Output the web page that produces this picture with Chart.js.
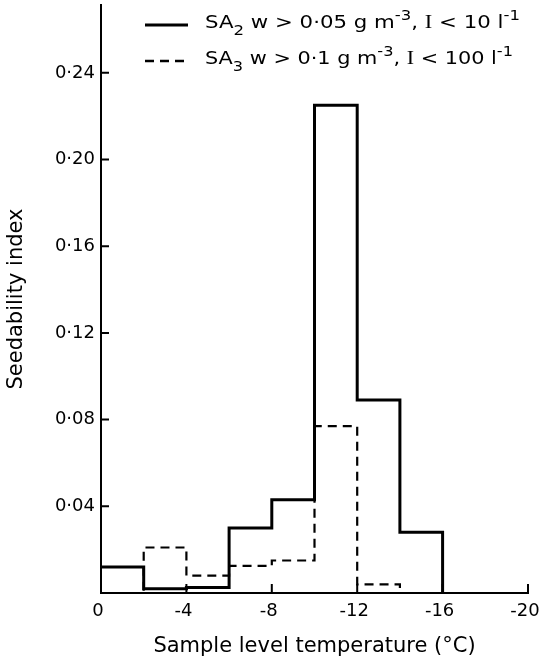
<!DOCTYPE html>
<html>
<head>
<meta charset="utf-8">
<script src="https://cdn.jsdelivr.net/npm/chart.js@4"></script>
<style>
  html, body { margin: 0; padding: 0; background: #fff; }
  #wrap { width: 540px; height: 658px; }
</style>
</head>
<body>
<div id="wrap"><canvas id="chart" width="540" height="658"></canvas></div>
<script>
// bin edges of the sample level temperature (deg C), 2 degree bins
const binEdges = [0, -2, -4, -6, -8, -10, -12, -14, -16];
// seedability index per bin
const sa2Values = [0.012, 0.002, 0.0025, 0.030, 0.043, 0.225, 0.089, 0.028];
const sa3Values = [0, 0.021, 0.008, 0.0125, 0.015, 0.077, 0.004, 0];
const xTicks = [0, -4, -8, -12, -16, -20];
const yTicks = [0.04, 0.08, 0.12, 0.16, 0.20, 0.24];

const FONT = 'DejaVu Sans';

// step line points: each bin value is held until the next edge, closing at 0
function stepPoints(values) {
    return binEdges.map((x, i) => ({ x: x, y: i < values.length ? values[i] : 0 }));
}

// inward tick marks on both axes
const innerTicks = {
    id: 'innerTicks',
    afterDraw(chart) {
        const ctx = chart.ctx;
        const xs = chart.scales.x, ys = chart.scales.y;
        const area = chart.chartArea;
        ctx.save();
        ctx.strokeStyle = '#000';
        ctx.lineWidth = 2;
        ctx.beginPath();
        xTicks.forEach(v => {
            const px = xs.getPixelForValue(v);
            ctx.moveTo(px, area.bottom);
            ctx.lineTo(px, area.bottom - 9);
        });
        yTicks.forEach(v => {
            const py = ys.getPixelForValue(v);
            ctx.moveTo(area.left, py);
            ctx.lineTo(area.left + 8, py);
        });
        ctx.stroke();
        ctx.restore();
    }
};

function pieceFont(kind) {
    if (kind === 'sub' || kind === 'sup') return '14px "' + FONT + '"';
    if (kind === 'serif') return '19px "Liberation Serif"';
    return '18px "' + FONT + '"';
}

// legend with sub/superscripts, stretched a bit to the width of the printed one
const sciLegend = {
    id: 'sciLegend',
    afterDraw(chart) {
        const ctx = chart.ctx;
        const rows = [
            { y: 25, dash: [], width: 3, right: 520, parts: [
                ['SA'], ['2', 'sub'], [' w > 0·05 g m'], ['-3', 'sup'], [', '], ['I', 'serif'],
                [' < 10 '], ['l'], ['-1', 'sup']] },
            { y: 61, dash: [9, 6], width: 2.5, right: 513, parts: [
                ['SA'], ['3', 'sub'], [' w > 0·1 g m'], ['-3', 'sup'], [', '], ['I', 'serif'],
                [' < 100 '], ['l'], ['-1', 'sup']] }
        ];
        const left = 205;
        ctx.save();
        rows.forEach(r => {
            ctx.strokeStyle = '#000';
            ctx.lineWidth = r.width;
            ctx.setLineDash(r.dash);
            ctx.beginPath();
            ctx.moveTo(145, r.y);
            ctx.lineTo(188, r.y);
            ctx.stroke();
            ctx.setLineDash([]);

            let total = 0;
            r.parts.forEach(p => { ctx.font = pieceFont(p[1]); total += ctx.measureText(p[0]).width; });
            const sx = (r.right - left) / total;

            ctx.save();
            ctx.translate(left, 0);
            ctx.scale(sx, 1);
            ctx.fillStyle = '#000';
            ctx.textBaseline = 'alphabetic';
            ctx.textAlign = 'left';
            const base = r.y + 3;
            let x = 0;
            r.parts.forEach(p => {
                let dy = 0;
                if (p[1] === 'sub') dy = 7;
                else if (p[1] === 'sup') dy = -8;
                ctx.font = pieceFont(p[1]);
                ctx.fillText(p[0], x, base + dy);
                x += ctx.measureText(p[0]).width;
            });
            ctx.restore();
        });
        ctx.restore();
    }
};

Chart.defaults.color = '#000';
Chart.defaults.font.family = FONT;

new Chart(document.getElementById('chart'), {
    type: 'line',
    data: {
        datasets: [
            {
                label: 'SA2',
                data: stepPoints(sa2Values),
                stepped: 'before',
                borderColor: '#000',
                borderWidth: 3,
                pointRadius: 0,
                fill: false
            },
            {
                label: 'SA3',
                data: stepPoints(sa3Values),
                stepped: 'before',
                borderColor: '#000',
                borderWidth: 2.2,
                borderDash: [9, 6],
                pointRadius: 0,
                fill: false
            }
        ]
    },
    options: {
        responsive: false,
        animation: false,
        layout: { padding: { top: 5, right: 12, left: 0, bottom: 0 } },
        plugins: {
            legend: { display: false },
            tooltip: { enabled: false }
        },
        scales: {
            x: {
                type: 'linear',
                min: -20,
                max: 0,
                reverse: true,
                grid: { display: true, drawOnChartArea: false, drawTicks: false },
                border: { display: true, color: '#000', width: 2 },
                afterBuildTicks: s => { s.ticks = xTicks.map(v => ({ value: v })); },
                afterFit: s => { s.height = 65; s.paddingLeft = 0; s.paddingRight = 0; },
                ticks: {
                    padding: 8,
                    maxRotation: 0,
                    labelOffset: -3,
                    font: { size: 18 },
                    callback: v => String(v)
                },
                title: {
                    display: true,
                    text: 'Sample level temperature (°C)',
                    font: { size: 21 },
                    padding: { top: 0, bottom: -1 }
                }
            },
            y: {
                min: 0,
                max: 0.2713,
                grid: { display: true, drawOnChartArea: false, drawTicks: false },
                border: { display: true, color: '#000', width: 2 },
                afterBuildTicks: s => { s.ticks = yTicks.map(v => ({ value: v })); },
                afterFit: s => { s.width = 101; s.paddingTop = 0; s.paddingBottom = 0; },
                ticks: {
                    padding: 6,
                    font: { size: 18 },
                    callback: v => v.toFixed(2).replace('.', '·')
                },
                title: {
                    display: true,
                    text: 'Seedability index',
                    font: { size: 21 },
                    padding: { top: 4, bottom: 0 }
                }
            }
        }
    },
    plugins: [innerTicks, sciLegend]
});
</script>
</body>
</html>
